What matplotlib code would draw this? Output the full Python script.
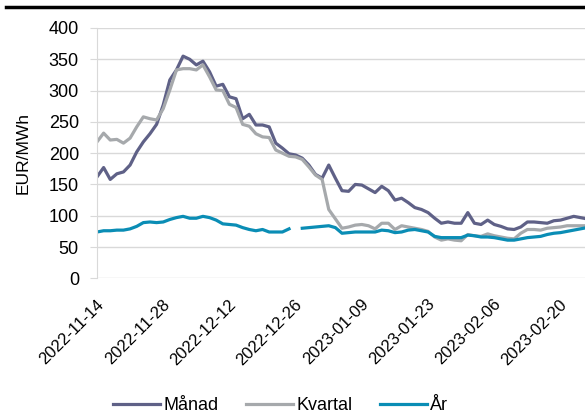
import matplotlib.pyplot as plt
import matplotlib.transforms as mtransforms
import numpy as np
import pandas as pd
from matplotlib.lines import Line2D

plt.rcParams['font.family'] = ['Liberation Sans', 'DejaVu Sans']

# trading days from 2022-11-14
dates = pd.bdate_range('2022-11-14', periods=75)
tick_labels = [d.strftime('%Y-%m-%d') for d in dates[::10]]

manad = [162, 177, 158, 167, 170, 181, 202, 218, 231, 246,
         277, 317, 333, 355, 350, 341, 347, 330, 307, 310,
         290, 287, 255, 262, 245, 245, 242, 216, 208, 199,
         197, 192, 181, 166, 160, 181, 160, 140, 139, 150,
         149, 143, 137, 147, 140, 125, 128, 121, 113, 110,
         105, 96, 88, 90, 88, 88, 105, 88, 86, 93,
         86, 83, 79, 78, 82, 90, 90, 89, 88, 92,
         93, 96, 99, 97, 95]
kvartal = [218, 232, 221, 222, 216, 224, 242, 258, 255, 253,
           271, 301, 333, 335, 335, 333, 341, 322, 301, 300,
           278, 273, 246, 243, 231, 226, 225, 205, 200, 195,
           194, 190, 178, 165, 158, 110, 95, 80, 82, 85,
           86, 84, 79, 88, 88, 78, 84, 82, 80, 78,
           75, 66, 61, 63, 61, 60, 70, 68, 67, 71,
           68, 66, 64, 63, 72, 78, 78, 77, 80, 81,
           82, 84, 84, 84, 84]
ar = [74, 76, 76, 77, 77, 79, 83, 89, 90, 89,
      90, 94, 97, 99, 96, 96, 99, 97, 93, 87,
      86, 85, 81, 78, 76, 78, 74, 74, 74, 79,
      np.nan, 80, 81, 82, 83, 84, 81, 72, 73, 74,
      74, 74, 74, 77, 76, 73, 74, 77, 78, 76,
      74, 67, 65, 65, 65, 65, 69, 68, 66, 66,
      65, 63, 61, 61, 63, 65, 66, 67, 70, 72,
      73, 75, 77, 79, 81]

x = np.arange(len(dates))

fig = plt.figure(figsize=(5.85, 4.16), dpi=100)
ax = fig.add_axes([0.1658, 0.331, 0.8342, 0.6017])

ax.plot(x, manad, color='#5f6187', lw=2.3, label='Månad')
ax.plot(x, kvartal, color='#a6a9ac', lw=2.3, label='Kvartal')
ax.plot(x, ar, color='#0a8db5', lw=2.3, label='År')

ax.set_ylim(0, 400)
ax.set_yticks(range(0, 401, 50))
ax.set_xlim(0, 73.7)
ax.set_xticks(x[::10])
ax.set_xticklabels(tick_labels, rotation=45, ha='right', va='center',
                   rotation_mode='anchor')
ax.tick_params(axis='x', length=0, pad=17, labelsize=12)
ax.tick_params(axis='y', length=5, color='#d9d9d9', pad=8, labelsize=13)
# nudge rotated date labels a little to the right
shift = mtransforms.ScaledTranslation(4 / 100, 0, fig.dpi_scale_trans)
for lbl in ax.get_xticklabels():
    lbl.set_transform(lbl.get_transform() + shift)
ax.grid(axis='y', color='#d9d9d9', lw=1)
ax.set_axisbelow(True)
for s in ['top', 'right', 'bottom']:
    ax.spines[s].set_visible(False)
ax.spines['left'].set_color('#d9d9d9')
ax.set_ylabel('EUR/MWh', fontsize=12.5, labelpad=13)

fig.legend(loc='center', bbox_to_anchor=(0.48, 0.025), ncol=3, frameon=False,
           fontsize=13, handlelength=2.6, handletextpad=0.2, columnspacing=1.5)

# black rule at the top (title is cut off)
fig.add_artist(Line2D([0.01, 1.0], [0.984, 0.984], color='black', lw=2.5))

fig.savefig('out.png', dpi=100)
